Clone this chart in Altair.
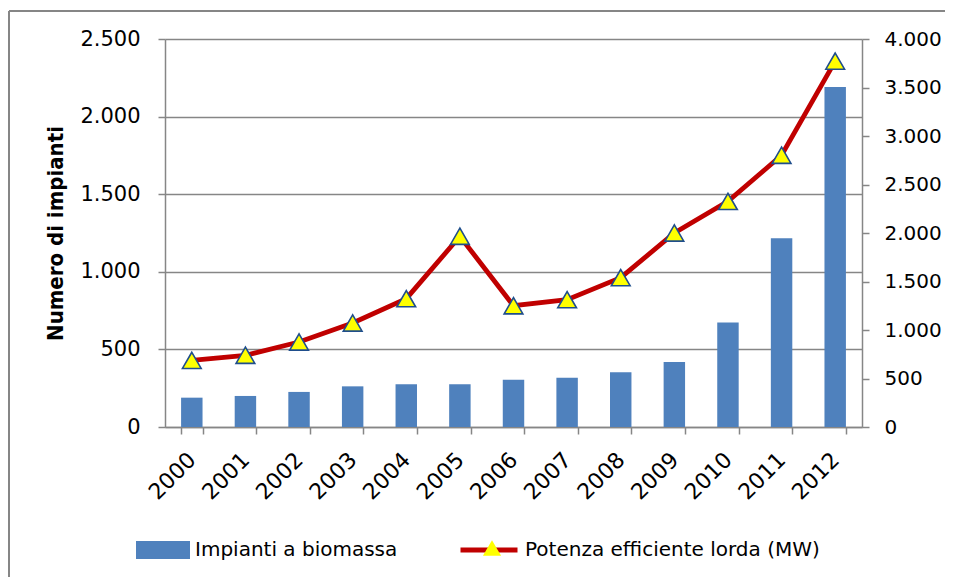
import altair as alt
import pandas as pd

anni = ["2000", "2001", "2002", "2003", "2004", "2005", "2006",
        "2007", "2008", "2009", "2010", "2011", "2012"]
impianti = [189, 200, 226, 262, 275, 275, 305, 318, 352, 419, 674, 1216, 2191]
potenza = [687, 739, 876, 1072, 1323, 1966, 1250, 1313, 1540, 2000, 2326, 2801, 3772]

left_ticks = [0, 500, 1000, 1500, 2000, 2500]
right_ticks = [0, 500, 1000, 1500, 2000, 2500, 3000, 3500, 4000]

serie_bar = "Impianti a biomassa"
serie_line = "Potenza efficiente lorda (MW)"

df = pd.DataFrame({"anno": anni, "impianti": impianti, "potenza": potenza})

FONT = "DejaVu Sans"
FONT_C = "DejaVu Sans Condensed"
GRAY = "#868686"
W, H = 697, 388
fmt = "replace(format(datum.value, ','), ',', '.')"

x = alt.X("anno:N", sort=anni,
          scale=alt.Scale(paddingInner=0.6, paddingOuter=0.3),
          axis=alt.Axis(title=None, labelAngle=-45, labelAlign="right",
                        labelBaseline="middle", labelFontSize=22, labelFont=FONT,
                        labelColor="black", labelPadding=22, tickBand="extent",
                        tickSize=7, tickColor=GRAY, tickWidth=1.5,
                        domainColor=GRAY, domainWidth=1.5, grid=False))

right_axis = alt.Axis(title=None, orient="right", values=right_ticks,
                      labelExpr=fmt, labelFontSize=20, labelFont=FONT,
                      labelColor="black", labelPadding=15, tickSize=7,
                      tickColor=GRAY, tickWidth=1.5, domainColor=GRAY,
                      domainWidth=1.5, grid=False)

bars = alt.Chart(df).mark_bar(color="#4F81BD").transform_calculate(
    serie=f"'{serie_bar}'"
).encode(
    x=x,
    y=alt.Y("impianti:Q", scale=alt.Scale(domain=[0, 2500], nice=False),
            axis=alt.Axis(title="Numero di impianti", values=left_ticks,
                          labelExpr=fmt, labelFontSize=21, labelFont=FONT,
                          labelColor="black", labelPadding=18, tickSize=7,
                          tickColor=GRAY, tickWidth=1.5, domainColor=GRAY,
                          domainWidth=1.5, grid=True, gridColor=GRAY,
                          gridWidth=1.3, titleFont=FONT_C, titleFontSize=22,
                          titleFontWeight="bold", titleColor="black",
                          titlePadding=12)),
    color=alt.Color("serie:N",
                    scale=alt.Scale(domain=[serie_bar], range=["#4F81BD"]),
                    legend=alt.Legend(orient="none", legendX=-29, legendY=484,
                                      title=None, symbolType="M-1,-0.333H1V0.333H-1Z",
                                      symbolSize=2916, symbolStrokeWidth=0,
                                      labelFont=FONT, labelFontSize=20,
                                      labelColor="black", labelOffset=5,
                                      labelLimit=0, padding=0)),
)

line = alt.Chart(df).mark_line(color="#C00000", strokeWidth=4.8).transform_calculate(
    serie2=f"'{serie_line}'"
).encode(
    x=x,
    y=alt.Y("potenza:Q", scale=alt.Scale(domain=[0, 4000], nice=False),
            axis=right_axis),
    stroke=alt.Stroke("serie2:N",
                      scale=alt.Scale(domain=[serie_line], range=["#C00000"]),
                      legend=alt.Legend(orient="none", legendX=293, legendY=480,
                                        title=None, symbolType="stroke",
                                        symbolSize=3249, symbolStrokeWidth=5,
                                        labelFont=FONT, labelFontSize=20,
                                        labelColor="black", labelOffset=5,
                                        labelLimit=0, padding=0)),
)

points = alt.Chart(df).mark_point(shape="triangle-up", filled=True, fill="#FFFF00",
                                  stroke="#1F4E8C", strokeWidth=1.6, size=350,
                                  opacity=1).transform_calculate(
    marker="'tri'"
).encode(
    x=x,
    y=alt.Y("potenza:Q", scale=alt.Scale(domain=[0, 4000], nice=False),
            axis=right_axis),
    shape=alt.Shape("marker:N",
                    scale=alt.Scale(domain=["tri"], range=["triangle-up"]),
                    legend=alt.Legend(orient="none", legendX=317, legendY=499,
                                      title=None, labelExpr="''", symbolSize=330,
                                      symbolFillColor="#FFFF00",
                                      symbolStrokeColor="#1F4E8C",
                                      symbolStrokeWidth=1.6, symbolOpacity=1,
                                      padding=0)),
)

frame_df = pd.DataFrame({"k": [0]})
frame_top = alt.Chart(frame_df).mark_rule(color=GRAY, strokeWidth=2).encode(
    x=alt.value(-156), x2=alt.value(800), y=alt.value(-28))
frame_left = alt.Chart(frame_df).mark_rule(color=GRAY, strokeWidth=2).encode(
    x=alt.value(-156), y=alt.value(-28), y2=alt.value(560))

chart = alt.layer(
    frame_top, frame_left, bars, alt.layer(line, points)
).resolve_scale(
    y="independent", color="independent", stroke="independent", shape="independent"
).properties(
    width=W, height=H,
    autosize=alt.AutoSizeParams(type="none"),
    padding={"left": 157, "top": 31, "right": 83, "bottom": 150},
    background="white",
).configure_view(stroke=None)

chart.save("out.html", embed_options={"renderer": "svg", "actions": False})
